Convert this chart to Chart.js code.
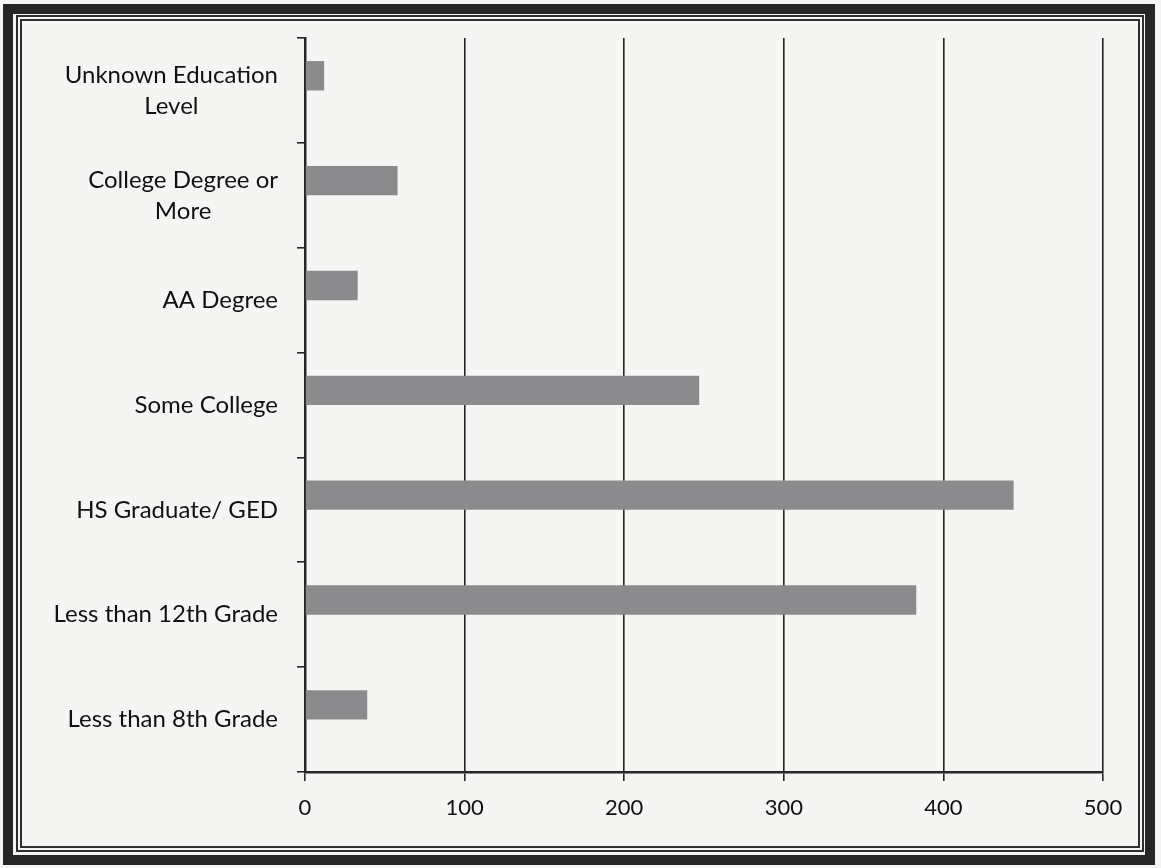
<!DOCTYPE html>
<html>
<head>
<meta charset="utf-8">
<script src="https://cdn.jsdelivr.net/npm/chart.js@4.4.1/dist/chart.umd.min.js"></script>
<style>
  html, body { margin: 0; padding: 0; background: #f5f5f3; }
  #wrap { position: relative; width: 1161px; height: 868px; overflow: hidden; }
  #eduChart { position: absolute; left: 0; top: 0; }
  .frameOuter { position: absolute; left: 3px; top: 4px; width: 1152px; height: 861px;
    box-sizing: border-box; border: 10px solid #262626; pointer-events: none; }
  .frameInner { position: absolute; left: 16px; top: 15px; width: 1128px; height: 837px;
    box-sizing: border-box; border: 6px double #2e2e2e; pointer-events: none; }
</style>
</head>
<body>
<div id="wrap">
  <canvas id="eduChart" width="1161" height="868"></canvas>
  <div class="frameOuter"></div>
  <div class="frameInner"></div>
</div>
<script>
// categories, top to bottom
const categories = [
    ['Unknown Education', 'Level'],
    ['College Degree or', 'More'],
    ['AA Degree'],
    ['Some College'],
    ['HS Graduate/ GED'],
    ['Less than 12th Grade'],
    ['Less than 8th Grade']
];
const counts = [12, 58, 33, 247, 444, 383, 39];
// second (empty) series of the original spreadsheet, it only takes up the lower half of each slot
const emptySeries = [null, null, null, null, null, null, null];
const xTicks = [0, 100, 200, 300, 400, 500];

const INK = '#262626';
const LABEL_FONT = '24px Lato, "Open Sans", sans-serif';

// y labels drawn by hand so that wrapped lines are centred in a right aligned block
const yLabelPlugin = {
    id: 'yLabels',
    afterDraw(chart) {
        const ctx = chart.ctx;
        const yScale = chart.scales.y;
        const right = 278;
        const lineH = 31;
        ctx.save();
        ctx.font = LABEL_FONT;
        ctx.fillStyle = '#111';
        ctx.textAlign = 'center';
        ctx.textBaseline = 'middle';
        categories.forEach((lines, i) => {
            const cy = yScale.getPixelForValue(i);
            let w = 0;
            lines.forEach(l => { w = Math.max(w, ctx.measureText(l).width); });
            const cx = right - w / 2;
            const y0 = cy - (lines.length - 1) * lineH / 2;
            lines.forEach((l, k) => ctx.fillText(l, cx, y0 + k * lineH));
        });
        ctx.restore();
    }
};

const canvas = document.getElementById('eduChart');
new Chart(canvas, {
    type: 'bar',
    data: {
        labels: categories.map(c => c.join(' ')),
        datasets: [
            {
                data: counts,
                backgroundColor: '#8b8b8e',
                borderWidth: 0,
                categoryPercentage: 0.56,
                barPercentage: 1.0
            },
            {
                data: emptySeries,
                backgroundColor: '#8b8b8e',
                borderWidth: 0,
                categoryPercentage: 0.56,
                barPercentage: 1.0
            }
        ]
    },
    options: {
        indexAxis: 'y',
        responsive: false,
        animation: false,
        layout: {
            padding: { top: 38, right: 58, left: 0, bottom: 0 }
        },
        plugins: {
            legend: { display: false },
            tooltip: { enabled: false },
            title: { display: false }
        },
        scales: {
            x: {
                min: xTicks[0],
                max: xTicks[xTicks.length - 1],
                afterBuildTicks: (axis) => { axis.ticks = xTicks.map(v => ({ value: v })); },
                afterFit: (axis) => { axis.height = 96; },
                grid: {
                    color: INK,
                    lineWidth: 1.6,
                    tickLength: 9
                },
                border: { color: INK, width: 2.5 },
                ticks: {
                    color: '#111',
                    font: { family: 'Lato, "Open Sans", sans-serif', size: 22 },
                    padding: 14
                }
            },
            y: {
                afterFit: (axis) => { axis.width = 305; },
                grid: {
                    offset: true,
                    drawOnChartArea: false,
                    color: INK,
                    lineWidth: 1.6,
                    tickLength: 8
                },
                border: { color: INK, width: 2.5 },
                ticks: { display: false }
            }
        }
    },
    plugins: [yLabelPlugin]
});
</script>
</body>
</html>
